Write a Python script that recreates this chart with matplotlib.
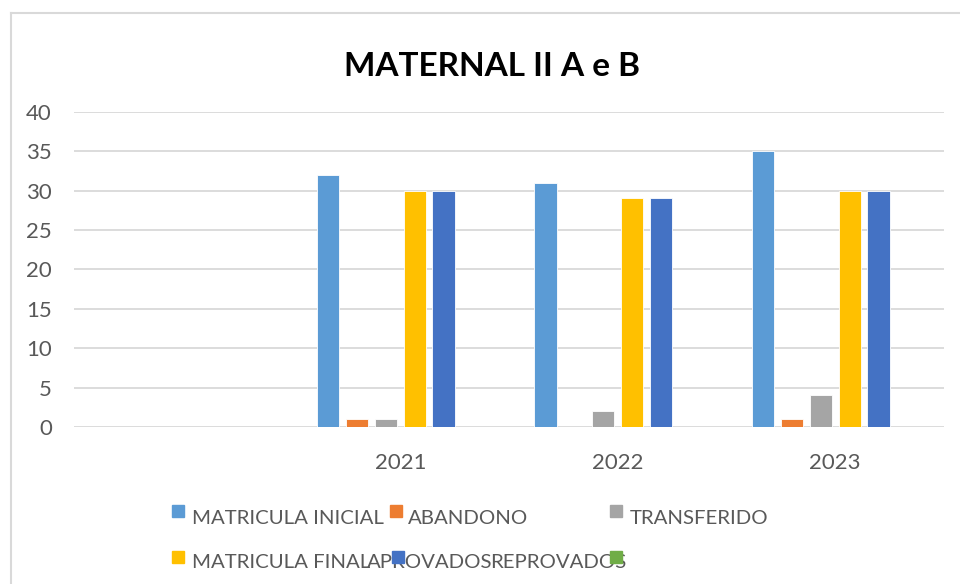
import matplotlib
matplotlib.use("Agg")
import matplotlib.pyplot as plt
from matplotlib.lines import Line2D
from matplotlib.patches import Rectangle
import numpy as np

plt.rcParams['font.family'] = ['Lato', 'DejaVu Sans']

# data
categories = ['', '2021', '2022', '2023']
series_names = ['MATRICULA INICIAL', 'ABANDONO', 'TRANSFERIDO',
                'MATRICULA FINAL', 'APROVADOS', 'REPROVADOS']
matricula_inicial = [np.nan, 32, 31, 35]
abandono = [np.nan, 1, 0, 1]
transferido = [np.nan, 1, 2, 4]
matricula_final = [np.nan, 30, 29, 30]
aprovados = [np.nan, 30, 29, 30]
reprovados = [np.nan, 0, 0, 0]
yticks = [0, 5, 10, 15, 20, 25, 30, 35, 40]

series = [matricula_inicial, abandono, transferido,
          matricula_final, aprovados, reprovados]
colors = ['#5B9BD5', '#ED7D31', '#A5A5A5', '#FFC000', '#4472C4', '#70AD47']
W, H = 960, 584
text_col = '#595959'

fig = plt.figure(figsize=(W / 100, H / 100), dpi=100)
ax = fig.add_axes([74 / W, 1 - 427 / H, (944 - 74) / W, (427 - 111.7) / H])

x = np.arange(len(categories))
step = 0.1333
width = 0.1034
for i, (vals, c) in enumerate(zip(series, colors)):
    ax.bar(x + (i - 2.5) * step, vals, width, color=c,
           edgecolor='white', linewidth=0.6, zorder=3)

ax.set_xlim(-0.5, len(categories) - 0.5)
ax.set_ylim(0, 40)
ax.set_yticks(yticks)
ax.set_xticks(x)
ax.set_xticklabels(categories)
ax.tick_params(axis='both', length=0, labelsize=16, colors=text_col)
ax.tick_params(axis='y', pad=16)
ax.tick_params(axis='x', pad=19)
ax.yaxis.grid(True, color='#D9D9D9', linewidth=1.3, zorder=0)
for s in ax.spines.values():
    s.set_visible(False)

fig.text(492 / W, 1 - 66 / H, 'MATERNAL II A e B', ha='center', va='center',
         fontsize=24, fontweight='bold', color='black')

# legend drawn by hand to keep the overlapping layout
marker_pos = [(172, 511), (390, 511), (610, 511),
              (172, 557), (392, 557), (610, 557)]
text_pos = [(192, 518), (408, 518), (630, 518),
            (192, 562), None, None]
fig.canvas.draw()
renderer = fig.canvas.get_renderer()
prev = None
for name, c, (mx, my), tp in zip(series_names, colors, marker_pos, text_pos):
    if tp is None:
        # row 2 texts run into each other as in the original
        end = prev.get_window_extent(renderer).x1
        tx, ty = end - 3, prev_y
    else:
        tx, ty = tp
    t = fig.text(tx / W, 1 - ty / H, name, ha='left', va='center',
                 fontsize=14.7, color=text_col)
    prev, prev_y = t, ty
    fig.patches.append(Rectangle((mx / W, 1 - (my + 6) / H), 12 / W, 12 / H,
                                 transform=fig.transFigure, color=c, zorder=5))

# chart border
fig.lines.append(Line2D([10.5 / W, 10.5 / W], [0, 1 - 12.5 / H],
                        transform=fig.transFigure, color='#D9D9D9', linewidth=1.5))
fig.lines.append(Line2D([10.5 / W, 1], [1 - 12.5 / H, 1 - 12.5 / H],
                        transform=fig.transFigure, color='#D9D9D9', linewidth=1.5))

fig.savefig('out.png', dpi=100)
